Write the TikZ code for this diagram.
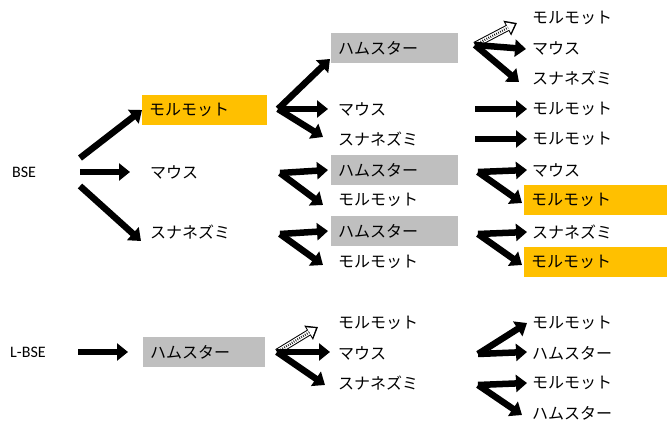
\documentclass[tikz,border=0pt]{standalone}
\usepackage{fontspec}
\setmainfont{Carlito}
\newfontfamily\jp{Noto Sans CJK JP}
\usetikzlibrary{arrows.meta}
\definecolor{gold}{HTML}{FFC000}
\definecolor{greybox}{HTML}{BFBFBF}
\begin{document}
\begin{tikzpicture}[x=1pt,y=-1pt,
  jt/.style={font=\jp\fontsize{16}{18}\selectfont, anchor=west, inner sep=0pt},
  lt/.style={font=\fontsize{16}{18}\selectfont, anchor=west, inner sep=0pt},
  boxed/.style={jt, minimum height=30pt, inner xsep=7pt, inner ysep=0pt, align=left},
  obox/.style={boxed, fill=gold},
  gbox/.style={boxed, fill=greybox},
  blk/.style={line width=6.5pt, -{Triangle[length=11pt,width=17pt]}},
  hollow/.style={line width=6.5pt, -{Triangle[length=11pt,width=16pt]},
    postaction={draw=white, line width=4.5pt, shorten >=2.5pt, shorten <=1pt, -{Triangle[length=7.5pt,width=11pt]}},
    postaction={draw=black, line width=2.2pt, dash pattern=on 0.7pt off 1.5pt, shorten >=10pt, shorten <=2pt, -}}
]
\useasboundingbox (0,0) rectangle (667,430);

% ---- column 1
\node[lt] (bse) at (12,172) {BSE};
\node[lt] (lbse) at (10,352) {L-BSE};

% ---- column 2
\node[obox, text width=111pt] (m1) at (142,110) {モルモット};
\node[jt] (m2) at (150,172) {マウス};
\node[jt] (m3) at (150,232) {スナネズミ};

% ---- column 3
\node[gbox, text width=113pt] (h1) at (331,48) {ハムスター};
\node[jt] (c3a) at (338,109) {マウス};
\node[jt] (c3b) at (338,139) {スナネズミ};
\node[gbox, text width=113pt] (h2) at (331,170) {ハムスター};
\node[jt] (c3c) at (338,200) {モルモット};
\node[gbox, text width=113pt] (h3) at (331,231) {ハムスター};
\node[jt] (c3d) at (338,262) {モルモット};

% ---- column 4
\node[jt] (d1) at (532,18) {モルモット};
\node[jt] (d2) at (532,48) {マウス};
\node[jt] (d3) at (532,78) {スナネズミ};
\node[jt] (d4) at (532,109) {モルモット};
\node[jt] (d5) at (532,139) {モルモット};
\node[jt] (d6) at (532,170) {マウス};
\node[obox, text width=129pt] (d7) at (524,200) {モルモット};
\node[jt] (d8) at (532,232) {スナネズミ};
\node[obox, text width=129pt] (d9) at (524,262) {モルモット};

% ---- bottom row
\node[gbox, text width=108pt] (hb) at (143,352) {ハムスター};
\node[jt] (e1) at (338,323) {モルモット};
\node[jt] (e2) at (338,353) {マウス};
\node[jt] (e3) at (338,383) {スナネズミ};
\node[jt] (f1) at (532,323) {モルモット};
\node[jt] (f2) at (532,353) {ハムスター};
\node[jt] (f3) at (532,383) {モルモット};
\node[jt] (f4) at (532,413) {ハムスター};

% ---- connector coordinates
\coordinate (bu) at (80,158);
\coordinate (bm) at (80,172);
\coordinate (bd) at (80,186);
\coordinate (tm2) at (130,172);
\coordinate (tm3) at (141,241);

\coordinate (o1) at (278,109);
\coordinate (t1a) at (330,59);
\coordinate (t1b) at (328,109);
\coordinate (t1c) at (323,137);
\coordinate (o2) at (280,173);
\coordinate (t2a) at (328,170);
\coordinate (t2b) at (323,205);
\coordinate (o3) at (280,234);
\coordinate (t3a) at (328,231);
\coordinate (t3b) at (323,265);

\coordinate (p1) at (475,45);
\coordinate (q1a) at (517,23);
\coordinate (q1b) at (526,49);
\coordinate (q1c) at (519,82);
\coordinate (p4) at (475,109);
\coordinate (q4) at (527,109);
\coordinate (p5) at (475,139);
\coordinate (q5) at (527,139);
\coordinate (p6) at (478,172);
\coordinate (q6a) at (527,170);
\coordinate (q6b) at (522,203);
\coordinate (p8) at (478,234);
\coordinate (q8a) at (527,232);
\coordinate (q8b) at (522,265);

\coordinate (lb0) at (78,352);
\coordinate (lb1) at (128,352);
\coordinate (pb) at (277,352);
\coordinate (qba) at (318,327);
\coordinate (qbb) at (330,352);
\coordinate (qbc) at (325,385);
\coordinate (pf1) at (478,354);
\coordinate (qf1) at (527,323);
\coordinate (qf2) at (527,352);
\coordinate (pf3) at (478,385);
\coordinate (qf3) at (527,383);
\coordinate (qf4) at (522,415);

% ---- arrows
\draw[blk] (bu) -- (m1.west);
\draw[blk] (bm) -- (tm2);
\draw[blk] (bd) -- (tm3);

\draw[blk] (o1) -- (t1a);
\draw[blk] (o1) -- (t1b);
\draw[blk] (o1) -- (t1c);
\draw[blk] (o2) -- (t2a);
\draw[blk] (o2) -- (t2b);
\draw[blk] (o3) -- (t3a);
\draw[blk] (o3) -- (t3b);

\draw[hollow] (p1) -- (q1a);
\draw[blk] (p1) -- (q1b);
\draw[blk] (p1) -- (q1c);
\draw[blk] (p4) -- (q4);
\draw[blk] (p5) -- (q5);
\draw[blk] (p6) -- (q6a);
\draw[blk] (p6) -- (q6b);
\draw[blk] (p8) -- (q8a);
\draw[blk] (p8) -- (q8b);

\draw[blk] (lb0) -- (lb1);
\draw[hollow] (pb) -- (qba);
\draw[blk] (pb) -- (qbb);
\draw[blk] (pb) -- (qbc);
\draw[blk] (pf1) -- (qf1);
\draw[blk] (pf1) -- (qf2);
\draw[blk] (pf3) -- (qf3);
\draw[blk] (pf3) -- (qf4);
\end{tikzpicture}
\end{document}
